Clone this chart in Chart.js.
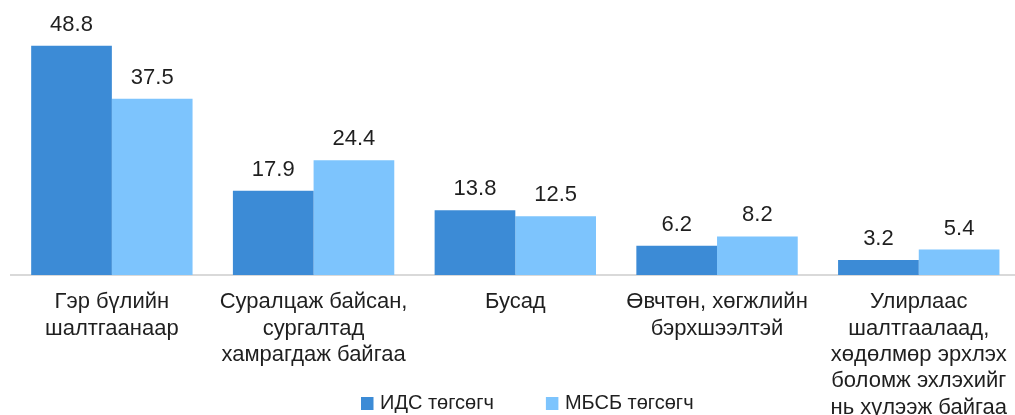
<!DOCTYPE html>
<html>
<head>
<meta charset="utf-8">
<script src="https://cdn.jsdelivr.net/npm/chart.js@4/dist/chart.umd.min.js"></script>
<style>
    html, body { margin: 0; padding: 0; overflow: hidden; background: #fff; }
    #wrap { position: relative; width: 1021px; height: 435px; }
</style>
</head>
<body>
<div id="wrap"><canvas id="barChart"></canvas></div>
<script>
const categories = [
    ['Гэр бүлийн', 'шалтгаанаар'],
    ['Суралцаж байсан,', 'сургалтад', 'хамрагдаж байгаа'],
    ['Бусад'],
    ['Өвчтөн, хөгжлийн', 'бэрхшээлтэй'],
    ['Улирлаас', 'шалтгаалаад,', 'хөдөлмөр эрхлэх', 'боломж эхлэхийг', 'нь хүлээж байгаа']
];
const idsValues = [48.8, 17.9, 13.8, 6.2, 3.2];
const mbsbValues = [37.5, 24.4, 12.5, 8.2, 5.4];
const seriesLabels = ['ИДС төгсөгч', 'МБСБ төгсөгч'];

const FONT = 'Liberation Sans, Arial, sans-serif';

// value labels above each bar
const valueLabels = {
    id: 'valueLabels',
    afterDatasetsDraw(chart) {
        const ctx = chart.ctx;
        ctx.save();
        ctx.font = '22px ' + FONT;
        ctx.fillStyle = '#1f1f1f';
        ctx.textAlign = 'center';
        ctx.textBaseline = 'alphabetic';
        chart.data.datasets.forEach((ds, i) => {
            chart.getDatasetMeta(i).data.forEach((bar, j) => {
                ctx.fillText(ds.data[j].toFixed(1), bar.x, bar.y - 15);
            });
        });
        ctx.restore();
    }
};

// legend drawn over the bottom area, like the original
const bottomLegend = {
    id: 'bottomLegend',
    afterDraw(chart) {
        const ctx = chart.ctx;
        ctx.save();
        ctx.font = '20px ' + FONT;
        ctx.textBaseline = 'middle';
        let x = 361;
        const y = 403.5;
        chart.data.datasets.forEach((ds) => {
            ctx.fillStyle = ds.backgroundColor;
            ctx.fillRect(x, y - 6.5, 12.5, 13);
            ctx.fillStyle = '#1f1f1f';
            ctx.fillText(ds.label, x + 19, y);
            x += 19 + ctx.measureText(ds.label).width + 52;
        });
        ctx.restore();
    }
};

const ctx = document.getElementById('barChart').getContext('2d');
const barChart = new Chart(ctx, {
    type: 'bar',
    data: {
        labels: categories,
        datasets: [
            {
                label: seriesLabels[0],
                data: idsValues,
                backgroundColor: 'rgb(60, 139, 214)',
                borderWidth: 0
            },
            {
                label: seriesLabels[1],
                data: mbsbValues,
                backgroundColor: 'rgb(125, 196, 253)',
                borderWidth: 0
            }
        ]
    },
    options: {
        responsive: true,
        maintainAspectRatio: false,
        animation: false,
        layout: {
            padding: { top: 40, left: 11, right: 0, bottom: 0 }
        },
        datasets: {
            bar: {
                categoryPercentage: 0.8,
                barPercentage: 1.0
            }
        },
        plugins: {
            legend: { display: false },
            tooltip: { enabled: false }
        },
        scales: {
            x: {
                grid: { display: false, drawTicks: false },
                border: { color: '#d9d9d9', width: 2 },
                ticks: {
                    color: '#1f1f1f',
                    padding: 14,
                    autoSkip: false,
                    maxRotation: 0,
                    font: { family: FONT, size: 22, lineHeight: 1.2 }
                }
            },
            y: {
                display: false,
                min: 0,
                max: 50
            }
        }
    },
    plugins: [valueLabels, bottomLegend]
});
</script>
</body>
</html>
